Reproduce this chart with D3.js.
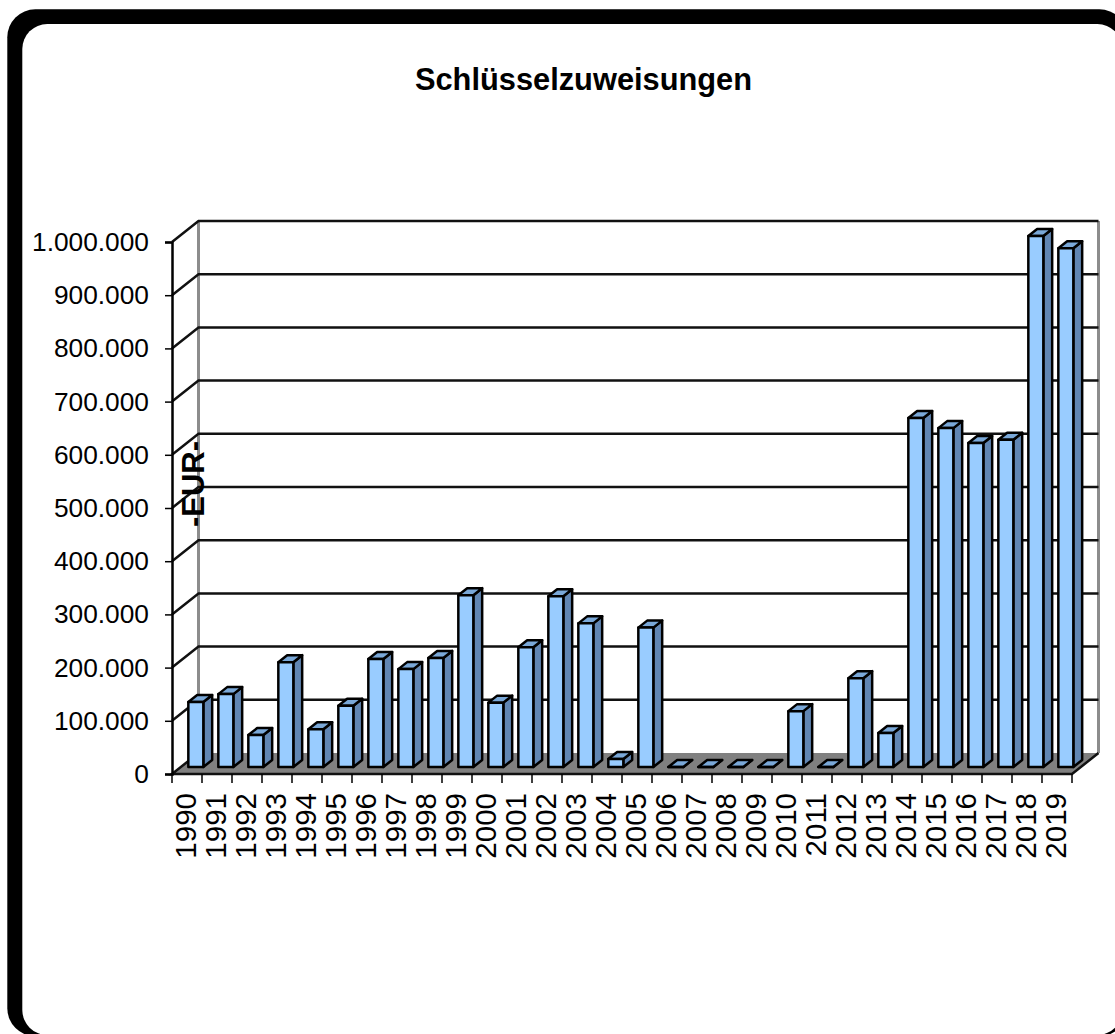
<!DOCTYPE html>
<html>
<head>
<meta charset="utf-8">
<script src="https://cdn.jsdelivr.net/npm/d3@7"></script>
<style>
  html, body { margin: 0; padding: 0; background: #fff; overflow: hidden; }
  svg { display: block; font-family: "Liberation Sans", Arial, sans-serif; }
</style>
</head>
<body>
<svg></svg>
<script>
const years = ["1990","1991","1992","1993","1994","1995","1996","1997","1998","1999",
               "2000","2001","2002","2003","2004","2005","2006","2007","2008","2009",
               "2010","2011","2012","2013","2014","2015","2016","2017","2018","2019"]

const values = [122000, 137000, 60000, 197000, 71000, 115000, 203000, 184000, 205000, 323000,
                121000, 225000, 321000, 270000, 15000, 262000, 0, 0, 0, 0,
                105000, 0, 167000, 64000, 656000, 637000, 609000, 615000, 998000, 975000]

const yTicks = [0, 100000, 200000, 300000, 400000, 500000, 600000, 700000, 800000, 900000, 1000000]

const title = "Schlüsselzuweisungen"
const yTitle = "-EUR-"

const width = 1115, height = 1034

// front plane of the fake 3d box, the back wall is shifted by depth
const plot = {left: 172, right: 1072, top: 242, bottom: 774}
const depth = {x: 26.5, y: 21}

const svg = d3.select("svg").attr("width", width).attr("height", height)

const de = d3.formatLocale({decimal: ",", thousands: ".", grouping: [3], currency: ["", " EUR"]})

const x = d3.scaleBand().domain(years).range([plot.left, plot.right])
            .paddingInner(0.5).paddingOuter(0.25)
const y = d3.scaleLinear().domain([0, 1000000]).range([plot.bottom, plot.top])

// frame
svg.append("rect").attr("x", 7.3).attr("y", 9.3).attr("width", 1120).attr("height", 1027)
   .attr("rx", 28).attr("fill", "#000")
svg.append("rect").attr("x", 22.3).attr("y", 24).attr("width", 1100).attr("height", 1011)
   .attr("rx", 25).attr("fill", "#fff")

svg.append("text").attr("x", 583.5).attr("y", 90)
   .attr("text-anchor", "middle").attr("font-weight", "bold").attr("font-size", 30.8)
   .attr("fill", "#000").text(title)

const line = d3.line()

// walls
const grid = svg.append("g").attr("fill", "none")
grid.append("path")
    .attr("d", line([[plot.left + depth.x, y(0) - depth.y], [plot.left + depth.x, y(1000000) - depth.y]]))
    .attr("stroke", "#8c8c8c").attr("stroke-width", 3)
grid.append("path")
    .attr("d", line([[plot.right + depth.x, y(0) - depth.y], [plot.right + depth.x, y(1000000) - depth.y]]))
    .attr("stroke", "#8c8c8c").attr("stroke-width", 3)

// gridlines run up the side wall and along the back
grid.selectAll("path.gridline")
  .data(yTicks.filter(d => d > 0))
  .join("path").classed("gridline", true)
    .attr("d", d => line([[plot.left, y(d)], [plot.left + depth.x, y(d) - depth.y], [plot.right + depth.x, y(d) - depth.y]]))
    .attr("stroke", "#111").attr("stroke-width", 2.5)

// floor, only the front and side edges are dark
const floorCorners = [[plot.left + depth.x, y(0) - depth.y], [plot.left, y(0)],
                      [plot.right, y(0)], [plot.right + depth.x, y(0) - depth.y]]
svg.append("path").attr("d", line(floorCorners) + "Z").attr("fill", "#808080")
svg.append("path").attr("d", line(floorCorners)).attr("fill", "none")
   .attr("stroke", "#111").attr("stroke-width", 2.5)

// bars sit in the middle third of the floor depth
const off = {x: depth.x / 3, y: depth.y / 3}

const bars = svg.append("g").selectAll("g")
  .data(years.map((d, i) => ({year: d, value: values[i]})))
  .join("g")
    .attr("stroke", "#000").attr("stroke-width", 2.5).attr("stroke-linejoin", "round")

const x0 = d => x(d.year) + off.x,
      x1 = d => x0(d) + x.bandwidth(),
      yTop = d => y(d.value) - off.y,
      yBase = () => y(0) - off.y

bars.append("path").attr("fill", "#6186b3")
    .attr("d", d => line([[x1(d), yTop(d)], [x1(d) + off.x, yTop(d) - off.y],
                          [x1(d) + off.x, yBase() - off.y], [x1(d), yBase()]]) + "Z")
bars.append("path").attr("fill", "#7aa8d8")
    .attr("d", d => line([[x0(d), yTop(d)], [x0(d) + off.x, yTop(d) - off.y],
                          [x1(d) + off.x, yTop(d) - off.y], [x1(d), yTop(d)]]) + "Z")
bars.append("path").attr("fill", "#99ccff")
    .attr("d", d => line([[x0(d), yTop(d)], [x1(d), yTop(d)], [x1(d), yBase()], [x0(d), yBase()]]) + "Z")

// axes
const yAxis = svg.append("g")
    .attr("transform", `translate(${plot.left},0)`)
    .call(d3.axisLeft(y).tickValues(yTicks).tickFormat(de.format(",d")).tickSize(7).tickPadding(16))
yAxis.selectAll("path").attr("stroke", "#000").attr("stroke-width", 2.5)
yAxis.selectAll("line").attr("stroke", "#000").attr("stroke-width", 1.5)
yAxis.selectAll("text").attr("font-size", 26.3).attr("font-family", "Liberation Sans").attr("fill", "#000")

const xAxis = svg.append("g")
    .attr("transform", `translate(0,${plot.bottom})`)
    .call(d3.axisBottom(x).tickSize(0).tickPadding(0))
xAxis.select("path").remove()
xAxis.selectAll("text")
    .attr("font-size", 29.5).attr("font-family", "Liberation Sans").attr("fill", "#000")
    .attr("text-anchor", "end").attr("dy", "0.35em")
    .attr("transform", "translate(-1,19) rotate(-90)")

// ticks are on the category boundaries, not the centres
svg.append("g").selectAll("line")
  .data(years.concat("end"))
  .join("line")
    .attr("x1", (d, i) => plot.left + i * x.step()).attr("x2", (d, i) => plot.left + i * x.step())
    .attr("y1", plot.bottom).attr("y2", plot.bottom + 9)
    .attr("stroke", "#000").attr("stroke-width", 1.5)

svg.append("text")
   .attr("transform", "translate(204,484) rotate(-90)")
   .attr("text-anchor", "middle").attr("font-weight", "bold").attr("font-size", 31)
   .attr("fill", "#000").text(yTitle)
</script>
</body>
</html>
